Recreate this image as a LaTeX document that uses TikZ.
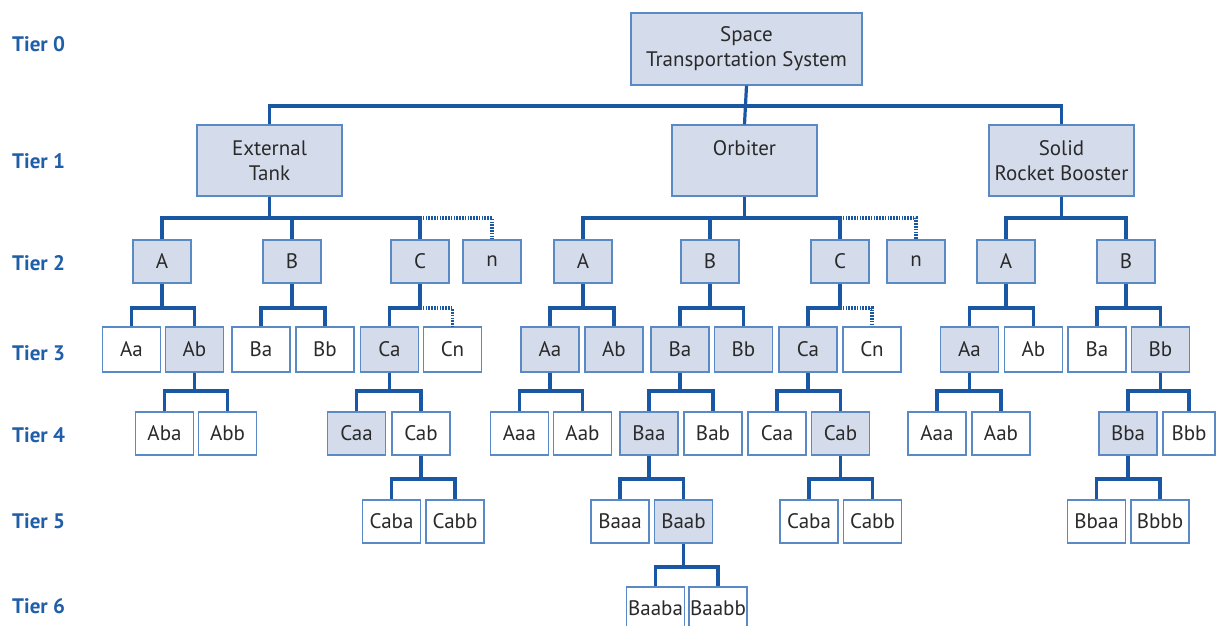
\documentclass[tikz,border=0pt]{standalone}
\usepackage{fontspec}
\setmainfont{PT Sans}
\definecolor{boxline}{HTML}{5A8AC6}
\definecolor{boxfill}{HTML}{D4DCEC}
\definecolor{conncol}{HTML}{1A57A3}
\definecolor{tiercol}{HTML}{1F5EA8}
\definecolor{txt}{HTML}{2A2A2A}
\tikzset{
  bx/.style={draw=boxline, line width=1.3pt, fill=white, text=txt, inner sep=0pt,
    font=\fontsize{21}{25}\selectfont, align=center, minimum width=58pt, minimum height=43pt},
  fl/.style={bx, fill=boxfill},
  big/.style={fl, minimum width=145pt, minimum height=71pt},
  conn/.style={draw=conncol, line width=3.2pt, line join=miter},
  dconn/.style={draw=conncol, line width=3.2pt, dash pattern=on 1.6pt off 1.2pt},
  tier/.style={anchor=west, text=tiercol, font=\fontsize{21}{24}\selectfont\bfseries, inner sep=0pt}
}
\begin{document}
\begin{tikzpicture}[x=1pt,y=-1pt]
\useasboundingbox (0,0) rectangle (1216,626);
\clip (0,0) rectangle (1216,626);
% tier labels
\node[tier] (t0) at (12,44) {Tier 0};
\node[tier] (t1) at (12,161) {Tier 1};
\node[tier] (t2) at (12,263) {Tier 2};
\node[tier] (t3) at (12,353) {Tier 3};
\node[tier] (t4) at (12,435) {Tier 4};
\node[tier] (t5) at (12,521) {Tier 5};
\node[tier] (t6) at (12,606) {Tier 6};
% bus levels
\coordinate (y1) at (0,106);
\coordinate (y2) at (0,218);
\coordinate (y3) at (0,308);
\coordinate (y4) at (0,391);
\coordinate (y5) at (0,479);
\coordinate (y6) at (0,567);
% tier 0
\node[fl, minimum width=231pt, minimum height=72pt] (sts) at (746.5,49) {Space\\Transportation System};
% tier 1
\node[big] (et) at (269.5,160.5) {External\\Tank};
\node[big] (orb) at (744.5,160.5) {Orbiter\\\phantom{T}};
\node[big] (srb) at (1061.5,160.5) {Solid\\Rocket Booster};
% tier 2
\node[fl] (etA) at (162,261.5) {A};
\node[fl] (etB) at (292,261.5) {B};
\node[fl] (etC) at (420,261.5) {C};
\node[fl] (etN) at (492,261.5) {n};
\node[fl] (orA) at (583,261.5) {A};
\node[fl] (orB) at (710,261.5) {B};
\node[fl] (orC) at (840,261.5) {C};
\node[fl] (orN) at (916,261.5) {n};
\node[fl] (srA) at (1006,261.5) {A};
\node[fl] (srB) at (1126,261.5) {B};
% tier 3
\tikzset{t3/.style={minimum height=45pt}}
\node[bx,t3] (etAa) at (131.5,349.5) {Aa};
\node[fl,t3] (etAb) at (194.5,349.5) {Ab};
\node[bx,t3] (etBa) at (261,349.5) {Ba};
\node[bx,t3] (etBb) at (325,349.5) {Bb};
\node[fl,t3] (etCa) at (389.5,349.5) {Ca};
\node[bx,t3] (etCn) at (452.5,349.5) {Cn};
\node[fl,t3] (orAa) at (550,349.5) {Aa};
\node[fl,t3] (orAb) at (614,349.5) {Ab};
\node[fl,t3] (orBa) at (680,349.5) {Ba};
\node[fl,t3] (orBb) at (743.5,349.5) {Bb};
\node[fl,t3] (orCa) at (808,349.5) {Ca};
\node[bx,t3] (orCn) at (872,349.5) {Cn};
\node[fl,t3] (srAa) at (969.5,349.5) {Aa};
\node[bx,t3] (srAb) at (1033.5,349.5) {Ab};
\node[bx,t3] (srBa) at (1097,349.5) {Ba};
\node[fl,t3] (srBb) at (1160.5,349.5) {Bb};
% tier 4
\node[bx] (etAba) at (164.5,433.5) {Aba};
\node[bx] (etAbb) at (227.5,433.5) {Abb};
\node[fl] (etCaa) at (356.5,433.5) {Caa};
\node[bx] (etCab) at (421,433.5) {Cab};
\node[bx] (orAaa) at (519.5,433.5) {Aaa};
\node[bx] (orAab) at (582.5,433.5) {Aab};
\node[fl] (orBaa) at (649,433.5) {Baa};
\node[bx] (orBab) at (713,433.5) {Bab};
\node[bx] (orCaa) at (777,433.5) {Caa};
\node[fl] (orCab) at (840.5,433.5) {Cab};
\node[bx] (srAaa) at (937,433.5) {Aaa};
\node[bx] (srAab) at (1001,433.5) {Aab};
\node[fl] (srBba) at (1128,433.5) {Bba};
\node[bx, minimum width=52pt] (srBbb) at (1189,433.5) {Bbb};
% tier 5
\node[bx] (etCaba) at (391.5,521.5) {Caba};
\node[bx] (etCabb) at (455,521.5) {Cabb};
\node[bx] (orBaaa) at (620,521.5) {Baaa};
\node[fl] (orBaab) at (683.5,521.5) {Baab};
\node[bx] (orCaba) at (809,521.5) {Caba};
\node[bx] (orCabb) at (872.5,521.5) {Cabb};
\node[bx] (srBbaa) at (1096.5,521.5) {Bbaa};
\node[bx] (srBbbb) at (1160,521.5) {Bbbb};
% tier 6
\node[bx] (orBaaba) at (655.5,608.5) {Baaba};
\node[bx] (orBaabb) at (718,608.5) {Baabb};
% ---- connectors ----
% tier 0 -> 1
\draw[conn] (et.north) -- (et.north |- y1) -- (srb.north |- y1) -- (srb.north);
\draw[conn] (sts.south) -- (orb.north);
% ET -> tier 2
\draw[conn] (etA.north) -- (etA.north |- y2) -- (etC.north |- y2) -- (etC.north);
\draw[conn] (et.south) -- (et.south |- y2);
\draw[conn] (etB.north) -- (etB.north |- y2);
\draw[dconn] (etC.north |- y2) -- (etN.north |- y2) -- (etN.north);
% Orbiter -> tier 2
\draw[conn] (orA.north) -- (orA.north |- y2) -- (orC.north |- y2) -- (orC.north);
\draw[conn] (orb.south) -- (orb.south |- y2);
\draw[conn] (orB.north) -- (orB.north |- y2);
\draw[dconn] (orC.north |- y2) -- (orN.north |- y2) -- (orN.north);
% SRB -> tier 2
\draw[conn] (srA.north) -- (srA.north |- y2) -- (srB.north |- y2) -- (srB.north);
\draw[conn] (srb.south) -- (srb.south |- y2);
% tier 2 -> 3
\draw[conn] (etAa.north) -- (etAa.north |- y3) -- (etAb.north |- y3) -- (etAb.north);
\draw[conn] (etA.south) -- (etA.south |- y3);
\draw[conn] (etBa.north) -- (etBa.north |- y3) -- (etBb.north |- y3) -- (etBb.north);
\draw[conn] (etB.south) -- (etB.south |- y3);
\draw[conn] (etCa.north) -- (etCa.north |- y3) -- (etC.south |- y3) -- (etC.south);
\draw[dconn] (etC.south |- y3) -- (etCn.north |- y3) -- (etCn.north);
\draw[conn] (orAa.north) -- (orAa.north |- y3) -- (orAb.north |- y3) -- (orAb.north);
\draw[conn] (orA.south) -- (orA.south |- y3);
\draw[conn] (orBa.north) -- (orBa.north |- y3) -- (orBb.north |- y3) -- (orBb.north);
\draw[conn] (orB.south) -- (orB.south |- y3);
\draw[conn] (orCa.north) -- (orCa.north |- y3) -- (orC.south |- y3) -- (orC.south);
\draw[dconn] (orC.south |- y3) -- (orCn.north |- y3) -- (orCn.north);
\draw[conn] (srAa.north) -- (srAa.north |- y3) -- (srAb.north |- y3) -- (srAb.north);
\draw[conn] (srA.south) -- (srA.south |- y3);
\draw[conn] (srBa.north) -- (srBa.north |- y3) -- (srBb.north |- y3) -- (srBb.north);
\draw[conn] (srB.south) -- (srB.south |- y3);
% tier 3 -> 4
\draw[conn] (etAba.north) -- (etAba.north |- y4) -- (etAbb.north |- y4) -- (etAbb.north);
\draw[conn] (etAb.south) -- (etAb.south |- y4);
\draw[conn] (etCaa.north) -- (etCaa.north |- y4) -- (etCab.north |- y4) -- (etCab.north);
\draw[conn] (etCa.south) -- (etCa.south |- y4);
\draw[conn] (orAaa.north) -- (orAaa.north |- y4) -- (orAab.north |- y4) -- (orAab.north);
\draw[conn] (orAa.south) -- (orAa.south |- y4);
\draw[conn] (orBaa.north) -- (orBaa.north |- y4) -- (orBab.north |- y4) -- (orBab.north);
\draw[conn] (orBa.south) -- (orBa.south |- y4);
\draw[conn] (orCaa.north) -- (orCaa.north |- y4) -- (orCab.north |- y4) -- (orCab.north);
\draw[conn] (orCa.south) -- (orCa.south |- y4);
\draw[conn] (srAaa.north) -- (srAaa.north |- y4) -- (srAab.north |- y4) -- (srAab.north);
\draw[conn] (srAa.south) -- (srAa.south |- y4);
\draw[conn] (srBba.north) -- (srBba.north |- y4) -- (srBbb.north |- y4) -- (srBbb.north);
\draw[conn] (srBb.south) -- (srBb.south |- y4);
% tier 4 -> 5
\draw[conn] (etCaba.north) -- (etCaba.north |- y5) -- (etCabb.north |- y5) -- (etCabb.north);
\draw[conn] (etCab.south) -- (etCab.south |- y5);
\draw[conn] (orBaaa.north) -- (orBaaa.north |- y5) -- (orBaab.north |- y5) -- (orBaab.north);
\draw[conn] (orBaa.south) -- (orBaa.south |- y5);
\draw[conn] (orCaba.north) -- (orCaba.north |- y5) -- (orCabb.north |- y5) -- (orCabb.north);
\draw[conn] (orCab.south) -- (orCab.south |- y5);
\draw[conn] (srBbaa.north) -- (srBbaa.north |- y5) -- (srBbbb.north |- y5) -- (srBbbb.north);
\draw[conn] (srBba.south) -- (srBba.south |- y5);
% tier 5 -> 6
\draw[conn] (orBaaba.north) -- (orBaaba.north |- y6) -- (orBaabb.north |- y6) -- (orBaabb.north);
\draw[conn] (orBaab.south) -- (orBaab.south |- y6);
\end{tikzpicture}
\end{document}
